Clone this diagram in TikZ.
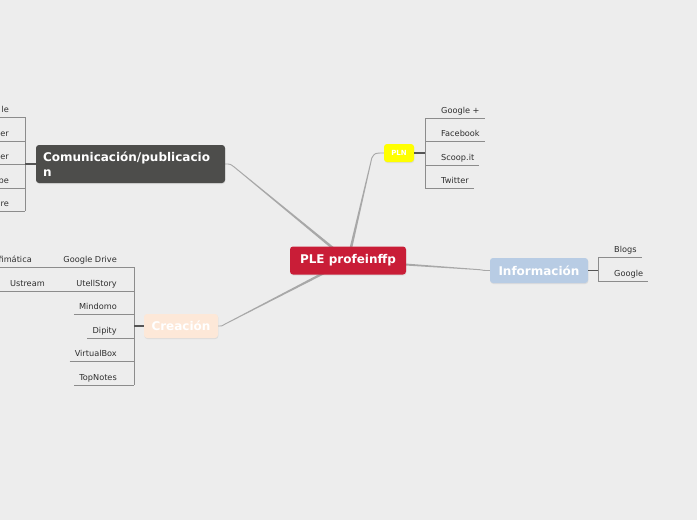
\documentclass[tikz,border=0pt]{standalone}
\usepackage{fontspec}
\setmainfont{DejaVu Sans}
\usetikzlibrary{calc,shadows}
\definecolor{bgc}{HTML}{EDEDED}
\definecolor{plered}{HTML}{C91D37}
\definecolor{comgray}{HTML}{4D4D4B}
\definecolor{crepeach}{HTML}{FDE8D8}
\definecolor{infblue}{HTML}{B8CCE4}
\definecolor{plnyel}{HTML}{FFFF00}
\definecolor{leaftext}{HTML}{2E2E2E}
\definecolor{linec}{HTML}{8C8C8C}
\definecolor{connc}{HTML}{A8A8A8}
\definecolor{branchc}{HTML}{555555}
\pgfdeclarelayer{bg}
\pgfsetlayers{bg,main}
\begin{document}
\begin{tikzpicture}[x=1pt,y=-1pt,
  topic/.style={rounded corners=3pt, text=white, inner sep=0pt, align=center,
    font=\bfseries\fontsize{12}{15}\selectfont,
    drop shadow={opacity=0.15, shadow xshift=0.4pt, shadow yshift=-1pt}},
  leafR/.style={anchor=base west, inner sep=0pt, text=leaftext, font=\fontsize{8.2}{10}\selectfont},
  leafL/.style={anchor=base east, inner sep=0pt, text=leaftext, font=\fontsize{8.2}{10}\selectfont},
  uline/.style={draw=linec, line width=0.8pt},
  branch/.style={draw=branchc, line width=1.3pt},
  conn/.style={draw=connc, line width=0.9pt, line cap=round},
  taper/.style={fill=connc}]
\begin{pgfonlayer}{bg}
\fill[bgc] (0,0) rectangle (697,520);
\end{pgfonlayer}
\useasboundingbox (0,0) rectangle (697,520);

% topics
\node[topic, fill=plered, minimum width=116pt, minimum height=28pt] (ple) at (348,260.5) {PLE profeinffp};
\node[topic, fill=comgray, minimum width=189pt, minimum height=38pt, align=left, inner xsep=7pt, text width=175pt] (com) at (130.5,164) {Comunicación/publicacio\\n};
\node[topic, fill=crepeach, minimum width=74pt, minimum height=24pt] (cre) at (181,326) {Creación};
\node[topic, fill=infblue, minimum width=98pt, minimum height=25pt] (inf) at (539,270.5) {Información};
\node[topic, fill=plnyel, minimum width=30pt, minimum height=18pt, font=\bfseries\fontsize{7}{8}\selectfont] (pln) at (399,153) {PLN};

% bend points of the main connectors
\coordinate (kcom) at ($(com.east)+(9,3)$);
\coordinate (kpln) at ($(pln.west)+(-12,5)$);
\coordinate (kcre) at ($(cre.east)+(7,-2)$);
\coordinate (kinf) at ($(inf.west)+(-10,-0.8)$);

% main connectors (behind), tapered towards the centre
\begin{pgfonlayer}{bg}
\draw[conn] (com.east) .. controls ($(com.east)+(5,0)$) .. (kcom);
\draw[conn] (pln.west) .. controls ($(pln.west)+(-9,0)$) .. (kpln);
\draw[conn] (cre.east) .. controls ($(cre.east)+(4,0)$) .. (kcre);
\draw[conn] (inf.west) .. controls ($(inf.west)+(-6,0)$) .. (kinf);
\foreach \k in {kcom,kpln,kcre,kinf}
  \fill[taper] ($(\k)!0.45pt!90:(ple.center)$) -- ($(ple.center)!1.4pt!-90:(\k)$)
     -- ($(ple.center)!1.4pt!90:(\k)$) -- ($(\k)!0.45pt!-90:(ple.center)$) -- cycle;
\end{pgfonlayer}

% PLN leaves
\node[leafR] (gp) at (441,113) {Google +};
\node[leafR] (fb) at (441,136) {Facebook};
\node[leafR] (sc) at (441,160) {Scoop.it};
\node[leafR] (tw) at (441,183) {Twitter};
\foreach \n in {gp,fb,sc,tw}
  \draw[uline] ($(\n.base west)+(-16,5)$) -- ($(\n.base east)+(5,5)$);
\draw[uline] ($(gp.base west)+(-16,5)$) -- ($(tw.base west)+(-16,5)$);
\draw[branch] (pln.east) -- ($(pln.east)+(11,0)$);

% Informacion leaves
\node[leafR] (bl) at (614,252) {Blogs};
\node[leafR] (go) at (614,276) {Google};
\foreach \n in {bl,go}
  \draw[uline] ($(\n.base west)+(-16,5)$) -- ($(\n.base east)+(5,5)$);
\draw[uline] ($(bl.base west)+(-16,5)$) -- ($(go.base west)+(-16,5)$);
\draw[branch] (inf.east) -- ($(inf.east)+(10,0)$);

% Comunicacion leaves
\node[leafL] (c1) at (9,112) {le};
\node[leafL] (c2) at (9,136) {er};
\node[leafL] (c3) at (9,159) {er};
\node[leafL] (c4) at (9,183) {pe};
\node[leafL] (c5) at (9,206) {re};
\foreach \n in {c1,c2,c3,c4,c5}
  \draw[uline] ($(\n.base east)+(-9,5)$) -- ($(\n.base east)+(16,5)$);
\draw[uline] ($(c1.base east)+(16,5)$) -- ($(c5.base east)+(16,5)$);
\draw[branch] (com.west) -- ($(com.west)+(-11,0)$);

% Creacion leaves
\node[leafL] (gd) at (117,262) {Google Drive};
\node[leafL] (ut) at (117,286) {UtellStory};
\node[leafL] (mi) at (117,309) {Mindomo};
\node[leafL] (di) at (117,333) {Dipity};
\node[leafL] (vb) at (117,356) {VirtualBox};
\node[leafL] (tn) at (117,380) {TopNotes};
\foreach \n in {gd,ut,mi,di,vb,tn}
  \draw[uline] ($(\n.base west)+(-5,5)$) -- ($(\n.base east)+(17,5)$);
\draw[uline] ($(gd.base east)+(17,5)$) -- ($(tn.base east)+(17,5)$);
\draw[branch] (cre.west) -- ($(cre.west)+(-10,0)$);

% second-level leaves
\node[leafL] (of) at (32,262) {fimática};
\node[leafL] (us) at (45,286) {Ustream};
\draw[uline] ($(of.base east)+(-32,5)$) -- ($(gd.base west)+(-5,5)$);
\draw[uline] ($(us.base east)+(-45,5)$) -- ($(ut.base west)+(-5,5)$);
\end{tikzpicture}
\end{document}
